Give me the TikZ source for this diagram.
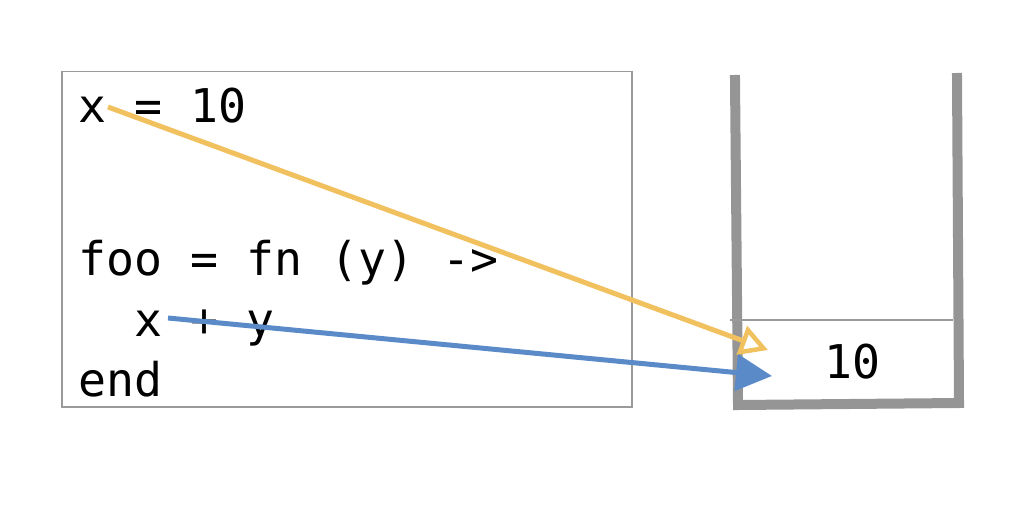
\documentclass[tikz,border=0pt]{standalone}
\usepackage{fontspec}
\setmonofont{DejaVu Sans Mono}
\usetikzlibrary{arrows.meta}
\definecolor{boxgray}{HTML}{9A9A9A}
\definecolor{wallgray}{HTML}{959595}
\definecolor{yel}{HTML}{F0C15E}
\definecolor{blu}{HTML}{5A8AC8}
\tikzset{
  code/.style={anchor=base west, inner sep=0pt, font=\ttfamily\fontsize{46.5}{46.5}\selectfont, text=black},
  wall/.style={draw=wallgray, line width=10pt, line cap=rect, line join=miter},
  yarrow/.style={draw=yel, line width=5pt, -{Triangle[open, length=28pt, width=30pt, line width=4.5pt]}},
  barrow/.style={draw=blu, fill=blu, line width=5pt, -{Triangle[length=36pt, width=36pt]}}
}
\begin{document}
\begin{tikzpicture}[x=1pt,y=-1pt]
\useasboundingbox (0,0) rectangle (1024,516);
\node[draw=boxgray, line width=1.5pt, minimum width=570pt, minimum height=335pt, anchor=north west, inner sep=0pt] (codebox) at (61,71) {};
\node[code] (l1) at (78,122) {x = 10};
\node[code] (l2) at (78,275) {foo = fn (y) ->};
\node[code] (l3) at (78,336) {\hphantom{xx}x + y};
\node[code] (l4) at (78,396) {end};
% stack
\draw[wall] (735,80) -- (738,405) -- (959,403) -- (957,78);
\draw[boxgray, line width=1.5pt] (730,320) -- (953,320);
\node[code, anchor=center] (val) at (852,362) {10};
\coordinate (ys) at (108,107);
\coordinate (ye) at (768,350);
\coordinate (bs) at (168,318);
\coordinate (be) at (772,376);
\draw[yarrow] (ys) -- (ye);
\draw[barrow] (bs) -- (be);
\end{tikzpicture}
\end{document}
